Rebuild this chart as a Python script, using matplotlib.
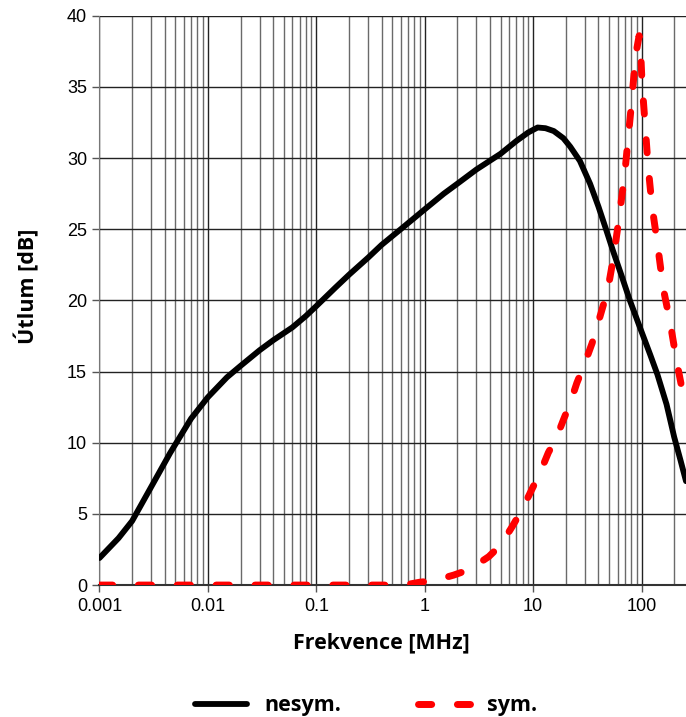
import matplotlib
matplotlib.use('Agg')
import matplotlib.pyplot as plt
from matplotlib.ticker import LogLocator, FixedLocator, FixedFormatter, NullFormatter

# frequency [MHz] and attenuation [dB]
freq_nesym = [0.001, 0.0015, 0.002, 0.003, 0.0045, 0.007, 0.01, 0.015, 0.02, 0.03,
              0.04, 0.06, 0.08, 0.1, 0.15, 0.2, 0.3, 0.4, 0.6, 1, 1.5, 2, 3, 5, 7,
              9, 11, 13, 15.5, 19, 22, 27, 33.5, 40, 47, 55, 65, 78, 100, 120, 140,
              170, 200, 230, 257]
att_nesym = [1.9, 3.3, 4.5, 6.9, 9.3, 11.7, 13.2, 14.6, 15.4, 16.5,
             17.2, 18.1, 18.9, 19.6, 20.9, 21.8, 23.0, 23.9, 25.0, 26.4, 27.5, 28.2, 29.2, 30.3, 31.2,
             31.8, 32.15, 32.1, 31.9, 31.4, 30.8, 29.8, 28.2, 26.6, 25.0, 23.4, 21.8, 20.0, 17.8, 16.2, 14.8,
             12.7, 10.4, 8.7, 7.3]

freq_sym = [0.001, 0.01, 0.1, 0.5, 0.7, 0.9, 1.2, 1.85, 2.6, 3.9, 5, 6.4, 7.9, 9.7,
            11.6, 13.8, 16.5, 19, 22, 25.3, 30, 35, 39, 44.5, 50, 55, 60, 65, 70,
            75, 80, 85, 90, 95, 98, 101, 108, 115, 125, 140, 159, 183, 211, 243, 257]
att_sym = [0, 0, 0, 0, 0.05, 0.2, 0.3, 0.7, 1.1, 2.0, 2.8, 4.1, 5.3, 6.7,
           7.9, 9.3, 10.4, 11.6, 12.8, 14.2, 15.6, 17.0, 18.2, 19.7, 21.2, 23.0, 25.0, 27.0, 28.9,
           31.3, 33.5, 35.8, 37.6, 38.6, 37.6, 35.3, 32.3, 29.4, 26.6, 24.0, 20.8, 18.5, 15.7, 13.3, 12.4]

x_ticks = [0.001, 0.01, 0.1, 1, 10, 100]
x_labels = ['0.001', '0.01', '0.1', '1', '10', '100']
y_ticks = [0, 5, 10, 15, 20, 25, 30, 35, 40]

plt.rcParams['font.family'] = ['Liberation Sans', 'DejaVu Sans']
bold_font = ['Open Sans', 'DejaVu Sans']

fig = plt.figure(figsize=(6.86, 7.17), dpi=100)
ax = fig.add_axes([0.145, 0.184, 0.855, 0.794])

ax.plot(freq_nesym, att_nesym, color='black', lw=4.2, solid_capstyle='round',
        solid_joinstyle='round', label='nesym.', zorder=3)
ax.plot(freq_sym, att_sym, color='#ff0000', lw=5.0, dashes=(1.9, 3.7),
        dash_capstyle='round', label='sym.', zorder=4)

ax.set_xscale('log')
ax.set_xlim(0.001, 257)
ax.set_ylim(0, 40)

ax.xaxis.set_major_locator(FixedLocator(x_ticks))
ax.xaxis.set_major_formatter(FixedFormatter(x_labels))
ax.xaxis.set_minor_locator(LogLocator(base=10, subs=range(2, 10), numticks=20))
ax.xaxis.set_minor_formatter(NullFormatter())
ax.set_yticks(y_ticks)

ax.grid(True, which='major', color='#222222', lw=1.0, zorder=1)
ax.grid(True, which='minor', axis='x', color='#6a6a6a', lw=1.0, zorder=1)
ax.set_axisbelow(True)

ax.tick_params(axis='both', which='major', labelsize=13, length=5, width=1,
               color='#555555', direction='out', pad=4)
ax.tick_params(axis='x', which='minor', length=0)

for side in ['top', 'right']:
    ax.spines[side].set_visible(False)
ax.spines['left'].set_color('#777777')
ax.spines['bottom'].set_color('#333333')
ax.spines['bottom'].set_linewidth(1.5)

ax.set_xlabel('Frekvence [MHz]', fontsize=15.5, fontweight='bold',
              family=bold_font, labelpad=13)
ax.set_ylabel('Útlum [dB]', fontsize=15.5, fontweight='bold',
              family=bold_font, labelpad=20)
ax.xaxis.label.set_x(0.48)
ax.yaxis.label.set_y(0.524)

fig.legend(loc='center', bbox_to_anchor=(0.534, 0.0155), ncol=2, frameon=False,
           handlelength=2.4, handletextpad=0.8, columnspacing=3.6,
           prop={'family': bold_font, 'weight': 'bold', 'size': 15.5})

plt.savefig('out.png', dpi=100)
